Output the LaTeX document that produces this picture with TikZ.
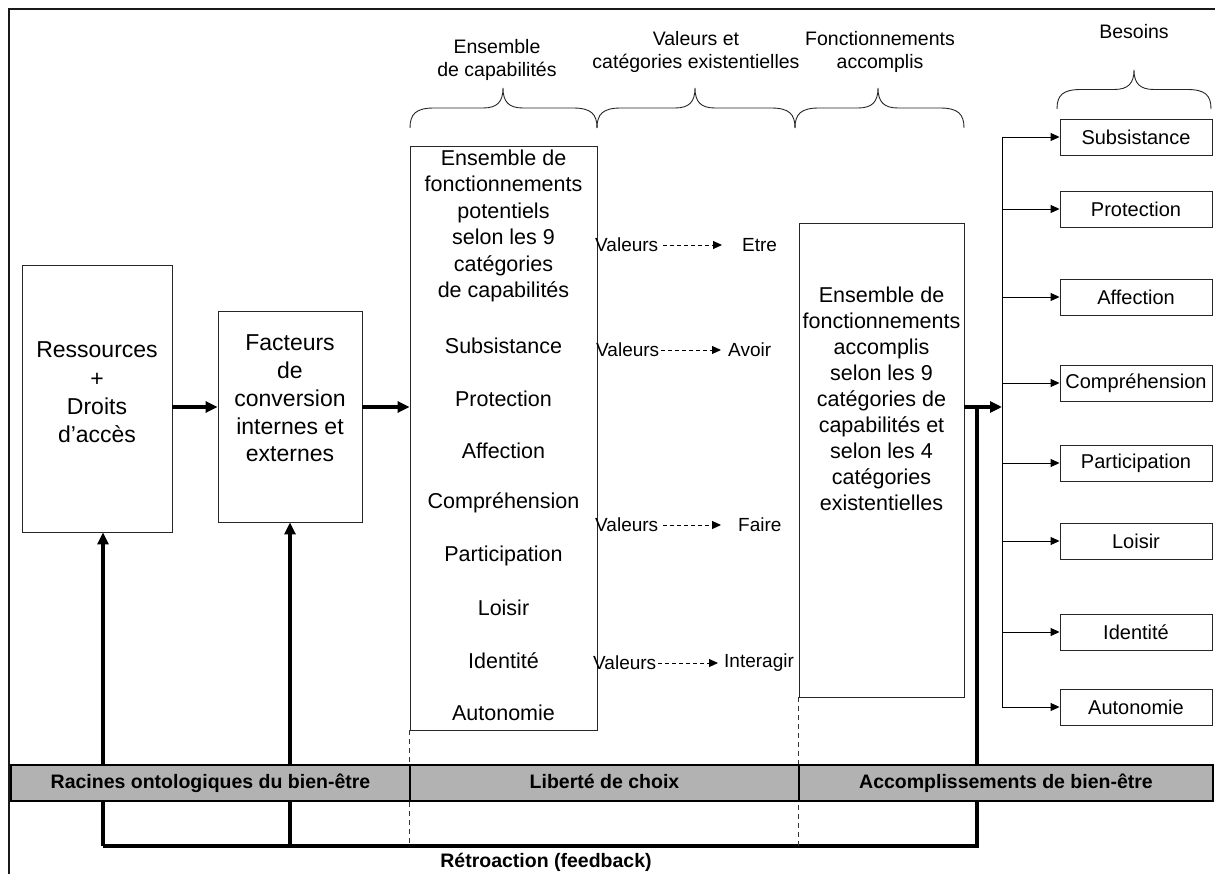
\documentclass[tikz,border=0pt]{standalone}
\usepackage{fontspec}
\setmainfont{Liberation Sans}
\usetikzlibrary{arrows.meta}
\newcommand\setfs[2]{\fontsize{#1}{#2}\selectfont}
\newcommand\mkbrace[5]{% x1 x2 xm ybase ytip
  \draw[brc] (#1,#4) .. controls (#1,{#4-14}) and ({#1+6},{(#4+#5)/2}) .. ({#1+24},{(#4+#5)/2})
   -- ({#3-20},{(#4+#5)/2}) .. controls ({#3-6},{(#4+#5)/2}) and (#3,{(#4+#5)/2-6}) .. (#3,#5)
   .. controls (#3,{(#4+#5)/2-6}) and ({#3+6},{(#4+#5)/2}) .. ({#3+20},{(#4+#5)/2})
   -- ({#2-24},{(#4+#5)/2}) .. controls ({#2-6},{(#4+#5)/2}) and (#2,{#4-14}) .. (#2,#4);}
\tikzset{
  bx/.style={draw=black!85, line width=0.9pt, inner sep=0pt},
  txt/.style={align=center, inner sep=0pt},
  thk/.style={line width=3.2pt, draw=black},
  thkarrow/.style={thk, -{Triangle[length=12pt,width=11pt]}},
  thnarrow/.style={line width=0.9pt, -{Triangle[length=9pt,width=8pt]}},
  dsh/.style={line width=0.9pt, dash pattern=on 4pt off 3pt, -{Triangle[length=9pt,width=8pt]}},
  vdsh/.style={line width=0.7pt, draw=black!80, dash pattern=on 5pt off 4pt},
  brc/.style={line width=0.9pt, draw=black!85},
  barbox/.style={draw=black, line width=1.4pt, fill=black!30, inner sep=0pt, minimum height=36pt, text height=14pt, text depth=4pt, font=\bfseries\setfs{19.5}{22}},
  valtxt/.style={anchor=west, inner sep=0pt, font=\setfs{19}{21}},
  rbox/.style={bx, minimum width=152pt, minimum height=36pt, font=\setfs{20}{22}}
}
\begin{document}
\begin{tikzpicture}[x=1pt,y=-1pt]
\useasboundingbox (0,0) rectangle (1215,874);
\fill[white] (0,0) rectangle (1215,874);
% frame
\draw[line width=2.5pt, draw=black!90] (9,874) -- (9,9) -- (1215,9);

% helper coordinates
\coordinate (y407) at (0,407);
\coordinate (vl) at (1002,0);
\coordinate (fbl) at (0,846);

% boxes
\node[bx, minimum width=150pt, minimum height=267pt] (res) at (97,398.5) {};
\node[txt, font=\setfs{23}{28.3}] (restxt) at (97,392.5) {Ressources\\+\\Droits\\d’accès};

\node[bx, minimum width=144pt, minimum height=211pt] (fac) at (290,416.5) {};
\node[txt, font=\setfs{23}{27.8}] (factxt) at (290,398.5) {Facteurs\\de\\conversion\\internes et\\externes};

\node[bx, minimum width=187pt, minimum height=584pt] (ens) at (503.5,438) {};
\node[txt, font=\setfs{21.5}{26.4}] (enstxt) at (503.5,226) {Ensemble de\\fonctionnements\\potentiels\\selon les 9\\catégories\\de capabilités};
\foreach \t [count=\i from 0] in {Subsistance,Protection,Affection,Compréhension,Participation,Loisir,Identité,Autonomie}
  \node[txt, font=\setfs{21.5}{24}] (ensitem\i) at (503.5,{346+52.4*\i}) {\t};

\node[bx, minimum width=165pt, minimum height=474pt] (acc) at (881.5,460) {};
\node[txt, font=\setfs{21.5}{26}] (acctxt) at (881.5,398.5) {Ensemble de\\fonctionnements\\accomplis\\selon les 9\\catégories de\\capabilités et\\selon les 4\\catégories\\existentielles};

% valeurs
\node[valtxt] (v1) at (595,245) {Valeurs};
\node[valtxt] (c1) at (742,245) {Etre};
\node[valtxt] (v2) at (596,350) {Valeurs};
\node[valtxt] (c2) at (728,350) {Avoir};
\node[valtxt] (v3) at (595,525) {Valeurs};
\node[valtxt] (c3) at (738,525) {Faire};
\node[valtxt] (v4) at (593,663) {Valeurs};
\node[valtxt] (c4) at (724,663) {Interagir};
\draw[dsh] ([xshift=5pt]v1.east) -- ([xshift=-20pt]c1.west);
\draw[dsh] ([xshift=2pt]v2.east) -- ([xshift=-7pt]c2.west);
\draw[dsh] ([xshift=5pt]v3.east) -- ([xshift=-17pt]c3.west);
\draw[dsh] ([xshift=2pt]v4.east) -- ([xshift=-6pt]c4.west);

% right boxes
\foreach \t/\yy [count=\i] in {Subsistance/137,Protection/209,Affection/297,Compréhension/383,Participation/463,Loisir/541,Identité/632,Autonomie/707}
  \node[rbox] (b\i) at (1136,\yy) {\t};
\draw[line width=0.9pt] (vl |- b1.west) -- (vl |- b8.west);
\foreach \i in {1,...,8}
  \draw[thnarrow] (vl |- b\i.west) -- (b\i.west);

% main arrows
\draw[thkarrow] (res.east |- y407) -- (fac.west |- y407);
\draw[thkarrow] (fac.east |- y407) -- (ens.west |- y407);
\draw[thkarrow] (acc.east |- y407) -- (vl |- y407);

% feedback
\coordinate (fb) at (977,407);
\draw[thk] (fb) -- (fb |- fbl) -- ([xshift=6pt]res.south |- fbl);
\draw[thkarrow] ([xshift=6pt]res.south |- fbl) -- ([xshift=6pt]res.south);
\draw[thkarrow] (fac.south |- fbl) -- (fac.south);

% dashed verticals
\draw[vdsh] (ens.south west) -- (ens.south west |- fbl);
\draw[vdsh] (acc.south west) -- (acc.south west |- fbl);

% bar
\node[barbox, minimum width=399pt] (bar1) at (210.5,783) {Racines ontologiques du bien-être};
\node[barbox, minimum width=389pt] (bar2) at (604.5,783) {Liberté de choix};
\node[barbox, minimum width=414pt] (bar3) at (1006,783) {Accomplissements de bien-être};
\node[txt, font=\bfseries\setfs{19.5}{22}] (retro) at (546,862) {Rétroaction (feedback)};

% braces
\mkbrace{410}{597}{503}{128}{88}
\mkbrace{597}{795}{695}{128}{88}
\mkbrace{795}{964}{878}{128}{88}
\mkbrace{1057}{1211}{1134}{109}{70}

% top labels
\node[txt, font=\setfs{19.5}{23}] (l1) at (497,60) {Ensemble\\de capabilités};
\node[txt, font=\setfs{19.5}{23}] (l2) at (696,52) {Valeurs et\\catégories existentielles};
\node[txt, font=\setfs{19.5}{23}] (l3) at (880,52) {Fonctionnements\\accomplis};
\node[txt, font=\setfs{19.5}{23}] (l4) at (1134,32) {Besoins};
\end{tikzpicture}
\end{document}
